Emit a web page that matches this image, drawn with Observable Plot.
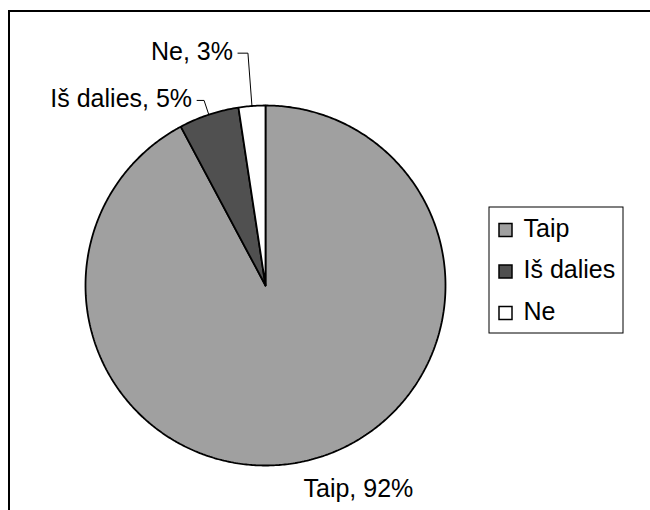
<!DOCTYPE html>
<html>
<head>
<meta charset="utf-8">
<script src="https://cdn.jsdelivr.net/npm/d3@7"></script>
<script src="https://cdn.jsdelivr.net/npm/@observablehq/plot@0.6"></script>
<style>
  html, body { margin: 0; padding: 0; background: #fff; }
  #wrap { position: relative; width: 650px; height: 510px; overflow: hidden; }
  #border { position: absolute; left: 8px; top: 10px; width: 700px; height: 600px; border: 2px solid #000; box-sizing: border-box; pointer-events: none; }
  svg { font-family: "Liberation Sans", Arial, sans-serif; }
</style>
</head>
<body>
<div id="wrap"><div id="border"></div></div>
<script>
// Data
const categories = ["Taip", "Iš dalies", "Ne"];
const values = [92.2, 5.4, 2.4];
const percentLabels = ["92%", "5%", "3%"];
const colors = ["#a0a0a0", "#505050", "#ffffff"];

// Layout
const W = 650, H = 510;
const cx = 265, cy = 285, R = 180;
const FS = 25;

const arcs = d3.pie().sort(null).value(d => d)(values);
const pt = (a, r) => [cx + r * Math.sin(a), cy - r * Math.cos(a)];

// slice polygons
const slicePts = [];
arcs.forEach((a, i) => {
  const n = Math.max(4, Math.ceil((a.endAngle - a.startAngle) / 0.01));
  slicePts.push({cat: categories[i], x: cx, y: cy});
  for (let k = 0; k <= n; k++) {
    const ang = a.startAngle + (a.endAngle - a.startAngle) * k / n;
    const [x, y] = pt(ang, R);
    slicePts.push({cat: categories[i], x, y});
  }
  slicePts.push({cat: categories[i], x: cx, y: cy});
});

// labels & leaders (Excel-like placement)
const mid = i => (arcs[i].startAngle + arcs[i].endAngle) / 2;
const leaderSpec = {
  1: {elbowR: 195, tail: 7},
  2: {elbowR: 233, tail: 10}
};
const leaders = [];
const sideLabels = [];
Object.entries(leaderSpec).forEach(([k, s]) => {
  const i = +k;
  const m = mid(i);
  const [x0, y0] = pt(m, R);
  const [x1, y1] = pt(m, s.elbowR);
  leaders.push({id: i, x: x0, y: y0});
  leaders.push({id: i, x: x1, y: y1});
  leaders.push({id: i, x: x1 - s.tail, y: y1});
  sideLabels.push({text: `${categories[i]}, ${percentLabels[i]}`, x: x1 - s.tail - 5, y: y1 + 7});
});
const bottomLabels = [{text: `${categories[0]}, ${percentLabels[0]}`, x: 303, y: 496}];

// legend
const legX = 489, legY = 207, legW = 134, legH = 126;
const legend = categories.map((c, i) => ({cat: c, color: colors[i], y: 230 + i * 41.5}));

const plot = Plot.plot({
  width: W, height: H,
  margin: 0,
  x: {type: "linear", domain: [0, W], range: [0, W], axis: null},
  y: {type: "linear", domain: [0, H], range: [0, H], axis: null},
  style: {fontFamily: "'Liberation Sans', Arial, sans-serif", background: "transparent"},
  marks: [
    Plot.line(slicePts, {x: "x", y: "y", z: "cat",
      fill: d => colors[categories.indexOf(d.cat)],
      stroke: "#000", strokeWidth: 1.8, strokeLinejoin: "miter", curve: "linear"}),
    Plot.line(leaders, {x: "x", y: "y", z: "id", stroke: "#000", strokeWidth: 1}),
    Plot.text(sideLabels, {x: "x", y: "y", text: "text", textAnchor: "end", lineAnchor: "bottom", fontSize: FS, fill: "#000"}),
    Plot.text(bottomLabels, {x: "x", y: "y", text: "text", textAnchor: "start", lineAnchor: "bottom", fontSize: FS, fill: "#000"}),
    Plot.rect([{}], {x1: () => legX, x2: () => legX + legW, y1: () => legY, y2: () => legY + legH, fill: "#fff", stroke: "#000", strokeWidth: 1}),
    Plot.rect(legend, {x1: () => 499, x2: () => 512, y1: d => d.y - 6.5, y2: d => d.y + 6.5, fill: d => d.color, stroke: "#000", strokeWidth: 1.5}),
    Plot.text(legend, {x: () => 523, y: d => d.y + 6, text: "cat", textAnchor: "start", lineAnchor: "bottom", fontSize: FS, fill: "#000"})
  ]
});
document.getElementById("wrap").prepend(plot);
</script>
</body>
</html>
